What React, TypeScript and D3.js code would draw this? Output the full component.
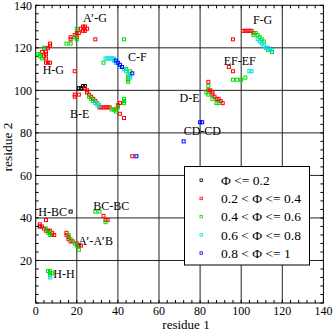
import React from "react";
import * as d3 from "d3";

type P = [number, number];

const black: P[] = [[21,101],[22,101],[23,102],[24,102],[17,43],[2,36]];
const red: P[] = [
  [7,122],[7,121],[6,120],[5,118],[5,117],[4,116],[5,115],[5,113],[6,113],[7,113],[3,118],[19,109],
  [22,129],[23,130],[24,130],[25,129],[23,128],[24,128],[20,127],[21,127],[19,126],[20,125],[17,125],[17,124],[29,124],
  [19,98],[19,97],[21,98],[24,101],[25,100],[25,99],[26,98],[27,97],[28,96],[29,95],[31,92],[32,92],[33,92],[34,92],[35,92],[36,92],[39,91],[41,89],[43,87],[40,93],[41,94],
  [47,69],
  [96,124],[94,111],[96,109],
  [101,128],[102,128],[103,128],[104,128],[105,128],[106,127],
  [84,104],[84,100],[85,100],[86,99],[86,98],[87,97],[88,96],[89,96],[90,95],[91,94],
  [5,39],[2,37],[3,36],[4,35],[5,34],[6,34],[7,34],[8,33],[8,32],[9,32],
  [15,33],[15,32],[16,31],[16,30],[17,29],[18,29],[20,28],[21,27],[22,27],
  [33,41],[34,39],[35,39],
];
const green: P[] = [
  [1,117],[2,117],[2,116],[3,115],[4,120],
  [20,129],[19,125],[20,124],[15,122],[17,122],[43,124],
  [33,113],[44,110],[46,109],[45,107],[45,106],[45,105],[45,104],
  [26,97],[27,96],[28,95],[30,94],[37,91],[38,91],[40,92],[39,90],[43,96],[43,95],[43,94],
  [96,105],[98,105],[100,105],[102,106],
  [106,126],[107,127],[108,126],[109,125],[110,124],[111,123],[113,119],[115,118],
  [84,102],[83,99],[84,98],[86,96],[88,94],[89,94],
  [5,35],[6,33],[7,33],[7,32],
  [16,32],[17,30],[19,28],[20,27],[21,25],
  [6,15],[7,15],[7,14],[8,14],[7,13],
  [29,43],[31,43],[34,38],
];
const cyan: P[] = [
  [34,115],[35,115],[36,115],[37,115],[38,115],[38,114],[39,113],[41,111],[43,110],[44,109],[46,107],[46,106],
  [29,94],[30,93],[31,93],
  [104,109],[105,109],
  [108,124],[109,123],[110,122],[111,121],[112,120],[113,120],[114,119],[115,119],
  [7,12],
];
const blue: P[] = [[39,114],[40,113],[41,112],[42,111],[47,108],[80,85],[81,85],[72,76],[49,69]];

const seriesNames = ["\u03A6 <= 0.2", "0.2 < \u03A6 <= 0.4", "0.4 < \u03A6 <= 0.6", "0.6 < \u03A6 <= 0.8", "0.8 < \u03A6 <= 1"];
const seriesData = [black, red, green, cyan, blue];
const seriesColors = ["#000000", "#ff0000", "#00dd00", "#00e0e0", "#0000ff"];

const labelTexts = ["A\u2019-G", "H-G", "C-F", "B-E", "F-G", "EF-EF", "D-E", "CD-CD", "H-BC", "BC-BC", "A\u2019-A\u2019B", "H-H"];
const labelX = [23, 3.4, 44.9, 16.7, 105.7, 91.5, 70, 72, 1.3, 28, 20.7, 8.6];
const labelY = [132, 107.7, 114, 87, 131.2, 112, 94.7, 79, 41, 43.7, 27.3, 11.9];

const majorTicks = [0, 20, 40, 60, 80, 100, 120, 140];

export default function App() {
  const W = 334, H = 330;
  const x = d3.scaleLinear().domain([0, 140]).range([35.7, 323.4]);
  const y = d3.scaleLinear().domain([0, 140]).range([303, 5.3]);
  const font = "'Liberation Serif', 'Times New Roman', serif";
  const minor = d3.range(0, 141, 4);
  const x0 = x(0), x1 = x(140), y0 = y(0), y1 = y(140);

  return (
    <svg width={W} height={H} style={{ position: "absolute", left: 0, top: 0, background: "#fff" }} fontFamily={font}>
      <rect x={0} y={0} width={W} height={H} fill="#fff" />
      {majorTicks.filter(t => t > 0 && t < 140).map(t => (
        <g key={"g" + t}>
          <line x1={x(t)} x2={x(t)} y1={y0} y2={y1} stroke="#222" strokeWidth={1} />
          <line x1={x0} x2={x1} y1={y(t)} y2={y(t)} stroke="#222" strokeWidth={1} />
        </g>
      ))}
      {minor.map(t => (
        <g key={"m" + t} stroke="#000" strokeWidth={1}>
          <line x1={x(t)} x2={x(t)} y1={y0} y2={y0 - 3} />
          <line x1={x(t)} x2={x(t)} y1={y1} y2={y1 + 3} />
          <line x1={x0} x2={x0 + 3} y1={y(t)} y2={y(t)} />
          <line x1={x1} x2={x1 - 3} y1={y(t)} y2={y(t)} />
        </g>
      ))}
      <rect x={x0} y={y1} width={x1 - x0} height={y0 - y1} fill="none" stroke="#000" strokeWidth={1} />
      {majorTicks.map(t => (
        <text key={"xl" + t} x={x(t)} y={314.5} textAnchor="middle" fontSize={12}>{t}</text>
      ))}
      {majorTicks.filter(t => t > 0).map(t => (
        <text key={"yl" + t} x={32} y={y(t) + 4.3} textAnchor="end" fontSize={12}>{t}</text>
      ))}
      <text x={186} y={328.5} textAnchor="middle" fontSize={13}>residue 1</text>
      <text transform={`translate(12,147) rotate(-90)`} textAnchor="middle" fontSize={13.5}>residue 2</text>
      {seriesData.map((s, i) => (
        <g key={"s" + i} fill="none" stroke={seriesColors[i]} strokeWidth={1}>
          {s.map((p, j) => (
            <rect key={j} x={x(p[0]) - 1.5} y={y(p[1]) - 1.5} width={3} height={3} />
          ))}
        </g>
      ))}
      {labelTexts.map((t, i) => (
        <text key={"a" + i} x={x(labelX[i])} y={y(labelY[i])} fontSize={12} fill="#000">{t}</text>
      ))}
      <rect x={184.5} y={166.5} width={125} height={98.5} fill="#fff" stroke="#000" strokeWidth={1} />
      {seriesNames.map((n, i) => (
        <g key={"l" + i}>
          <rect x={200} y={179 + i * 18.2} width={2.5} height={2.5} fill="none" stroke={seriesColors[i]} strokeWidth={0.8} />
          <text x={221} y={185 + i * 18.2} fontSize={13.5}>{n}</text>
        </g>
      ))}
    </svg>
  );
}
